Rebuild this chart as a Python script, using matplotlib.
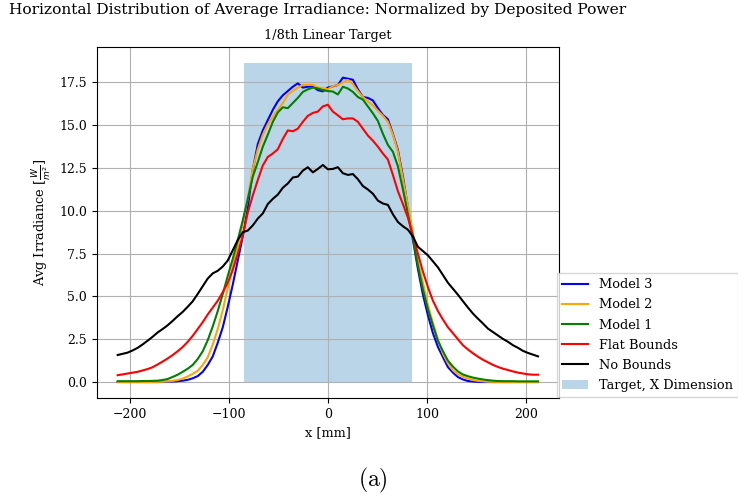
import numpy as np
from matplotlib import pyplot as plt

plt.rcParams['font.family'] = 'DejaVu Serif'

## values (x in mm, irradiance normalized by deposited power)
model3 = [0, 0, 0, 0, 0, 0, 0, 0, 0, 0.01, 0.02, 0.03, 0.05, 0.08, 0.13, 0.22, 0.35,
          0.6, 1.0, 1.5, 2.3, 3.2, 4.4, 5.7, 7.1, 8.5, 10.2, 12.4, 13.9, 14.7, 15.3, 15.9, 16.4, 16.75,
          17.0, 17.25, 17.45, 17.2, 17.25, 17.27, 17.05, 16.98, 17.2, 17.28, 17.35, 17.78, 17.72, 17.66, 17.1, 16.65, 16.6,
          16.45, 16.0, 15.6, 15.35, 14.5, 13.55, 12.0, 10.2, 8.3, 6.6, 5.1, 3.9, 2.85, 2.05, 1.45, 0.87, 0.55,
          0.29, 0.15, 0.06, 0.03, 0.01, 0, 0, 0, 0, 0, 0, 0, 0, 0, 0, 0, 0]
model2 = [0, 0, 0, 0, 0, 0, 0, 0.01, 0.01, 0.02, 0.04, 0.07, 0.12, 0.2, 0.33, 0.48, 0.66,
          1.0, 1.45, 2.2, 3.1, 4.2, 5.5, 6.75, 7.9, 9.3, 10.75, 12.45, 13.6, 14.45, 15.05, 15.5, 15.9, 16.3,
          16.8, 17.0, 17.2, 17.36, 17.36, 17.36, 17.2, 17.17, 17.1, 17.3, 17.35, 17.5, 17.65, 17.4, 17.0, 16.65, 16.4,
          16.15, 15.85, 15.55, 15.2, 14.45, 13.45, 11.85, 10.3, 8.7, 7.1, 5.8, 4.5, 3.45, 2.5, 1.65, 1.1, 0.68,
          0.45, 0.3, 0.2, 0.12, 0.07, 0.04, 0.02, 0.01, 0.01, 0, 0, 0, 0, 0, 0, 0, 0]
model1 = [0.05, 0.05, 0.05, 0.05, 0.05, 0.06, 0.06, 0.07, 0.08, 0.12, 0.18, 0.3, 0.43, 0.6, 0.78, 1.0, 1.35,
          1.8, 2.45, 3.25, 4.15, 5.15, 6.2, 7.2, 8.3, 9.45, 10.7, 12.0, 12.85, 13.75, 14.45, 15.2, 15.75, 16.05,
          16.0, 16.3, 16.6, 16.95, 17.1, 17.2, 17.15, 17.05, 17.0, 16.97, 16.8, 17.25, 17.15, 16.95, 16.65, 16.5, 16.1,
          15.7, 15.25, 14.5, 13.85, 13.45, 12.6, 11.25, 9.8, 8.4, 6.8, 5.4, 4.25, 3.3, 2.4, 1.8, 1.25, 0.9,
          0.62, 0.44, 0.34, 0.26, 0.2, 0.15, 0.11, 0.08, 0.06, 0.05, 0.05, 0.05, 0.04, 0.04, 0.04, 0.04, 0.04]
flat_bounds = [0.4, 0.45, 0.5, 0.55, 0.6, 0.68, 0.76, 0.87, 1.03, 1.2, 1.38, 1.58, 1.8, 2.05, 2.35, 2.7, 3.1,
               3.5, 3.95, 4.35, 4.75, 5.25, 5.8, 6.55, 7.5, 8.55, 9.9, 10.9, 11.8, 12.65, 13.15, 13.35, 13.6, 14.2,
               14.7, 14.65, 14.8, 15.2, 15.55, 15.72, 15.8, 16.1, 16.2, 15.8, 15.58, 15.35, 15.4, 15.4, 15.2, 14.8, 14.4,
               14.1, 13.75, 13.35, 13.0, 12.1, 11.15, 10.4, 9.6, 8.55, 7.5, 6.45, 5.55, 4.75, 4.15, 3.65, 3.2, 2.85,
               2.5, 2.15, 1.9, 1.68, 1.48, 1.3, 1.15, 1.0, 0.88, 0.78, 0.7, 0.62, 0.55, 0.5, 0.45, 0.43, 0.43]
no_bounds = [1.58, 1.65, 1.72, 1.85, 2.0, 2.2, 2.42, 2.65, 2.9, 3.1, 3.32, 3.58, 3.85, 4.1, 4.4, 4.72, 5.15,
             5.6, 6.05, 6.35, 6.5, 6.75, 7.1, 7.7, 8.3, 8.75, 8.85, 9.15, 9.55, 9.85, 10.4, 10.7, 10.95, 11.35,
             11.6, 11.95, 12.0, 12.35, 12.55, 12.25, 12.45, 12.68, 12.43, 12.45, 12.55, 12.2, 12.1, 12.15, 11.85, 11.45, 11.25,
             11.0, 10.6, 10.43, 10.35, 9.8, 9.35, 9.1, 8.9, 8.5, 7.9, 7.65, 7.4, 7.05, 6.7, 6.25, 5.8, 5.45,
             5.1, 4.72, 4.35, 4.0, 3.7, 3.42, 3.12, 2.92, 2.72, 2.52, 2.35, 2.15, 2.0, 1.82, 1.7, 1.6, 1.5]

x = np.linspace(-212, 212, len(model3))

target_halfwidth = 84.6   # mm
target_height = 18.64


## plot
fig = plt.figure(figsize=(7.38, 4.99), dpi=100)
ax = fig.add_axes([0.131, 0.2024, 0.6265, 0.7034])

ax.plot(x, model3, color='blue', label='Model 3')
ax.plot(x, model2, color='orange', label='Model 2')
ax.plot(x, model1, color='green', label='Model 1')
ax.plot(x, flat_bounds, color='red', label='Flat Bounds')
ax.plot(x, no_bounds, color='black', label='No Bounds')
ax.fill_between([-target_halfwidth, target_halfwidth], 0, target_height,
                alpha=0.3, linewidth=0, label='Target, X Dimension')

ax.grid()
ax.tick_params(labelsize=9)
ax.set_xlabel('x [mm]', fontsize=9.3)
ax.set_ylabel(r'Avg Irradiance [$\frac{W}{m^2}$]', fontsize=9.3)
ax.set_title('1/8th Linear Target', fontsize=9.3)
ax.legend(loc='lower left', bbox_to_anchor=(0.995, 0.002), fontsize=9.4,
          fancybox=False, borderaxespad=0, labelspacing=0.55)

fig.text(0.012, 0.993, 'Horizontal Distribution of Average Irradiance: Normalized by Deposited Power',
         ha='left', va='top', fontsize=11.15)
fig.text(0.505, 0.038, r'$\mathrm{(a)}$', ha='center', va='center', fontsize=17,
         math_fontfamily='cm')

plt.savefig('out.png', dpi=100)
